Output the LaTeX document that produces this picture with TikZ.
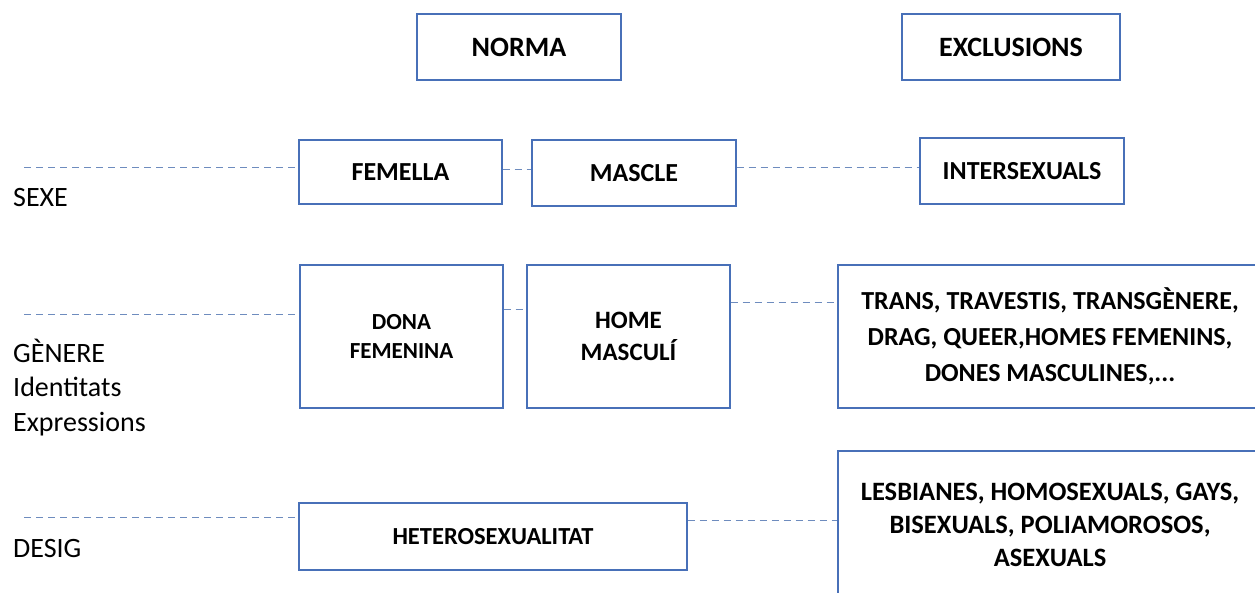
\documentclass[tikz,border=0pt]{standalone}
\usepackage{fontspec}
\setmainfont{Carlito}
\definecolor{boxblue}{RGB}{72,112,184}
\definecolor{dashblue}{RGB}{110,140,190}
\begin{document}
\begin{tikzpicture}[x=1pt,y=-1pt,
  box/.style={draw=boxblue,line width=1.1pt,inner sep=0pt,align=center,font=\fontsize{26}{32}\selectfont\bfseries},
  dashline/.style={draw=dashblue,line width=0.9pt,dash pattern=on 7pt off 5pt},
  lbl/.style={anchor=base west,inner sep=0pt,align=left,font=\fontsize{28}{34.5}\selectfont}]
\useasboundingbox (0,0) rectangle (1255,592);
\fill[white] (0,0) rectangle (1255,592);
% header
\node[box,minimum width=204pt,minimum height=66pt,font=\fontsize{28}{32}\selectfont\bfseries] (norma) at (519,47) {NORMA};
\node[box,minimum width=218pt,minimum height=66pt,font=\fontsize{28}{32}\selectfont\bfseries] (excl) at (1011,47) {EXCLUSIONS};
% sexe
\node[box,minimum width=203pt,minimum height=64pt] (femella) at (400.5,172) {FEMELLA};
\node[box,minimum width=204pt,minimum height=66pt] (mascle) at (634,173) {MASCLE};
\node[box,minimum width=204pt,minimum height=66pt] (inter) at (1022,171) {INTERSEXUALS};
% genere
\node[box,minimum width=203pt,minimum height=143pt,font=\fontsize{23}{28.5}\selectfont\bfseries] (dona) at (401.5,336.5) {DONA\\FEMENINA};
\node[box,minimum width=203pt,minimum height=143pt,font=\fontsize{25}{32}\selectfont\bfseries] (home) at (628.5,336.5) {HOME\\MASCULÍ};
\node[box,minimum width=424pt,minimum height=143pt,font=\fontsize{26}{36}\selectfont\bfseries] (trans) at (1050,336.5) {TRANS, TRAVESTIS, TRANSGÈNERE,\\DRAG, QUEER,HOMES FEMENINS,\\DONES MASCULINES,...};
% desig
\node[box,minimum width=388pt,minimum height=67pt,font=\fontsize{24.5}{32}\selectfont\bfseries] (hetero) at (493,536.5) {HETEROSEXUALITAT};
\node[box,minimum width=424pt,minimum height=148pt,font=\fontsize{26.5}{33}\selectfont\bfseries] (lesb) at (1050,525) {LESBIANES, HOMOSEXUALS, GAYS,\\BISEXUALS, POLIAMOROSOS,\\ASEXUALS};
% row labels
\node[lbl] (lsexe) at (13,206) {SEXE};
\node[lbl] (lgen) at (13,431) {GÈNERE\\Identitats\\Expressions};
\node[lbl] (ldesig) at (13,557) {DESIG};
% heights of the dashed guide lines
\coordinate (s1) at (24,167);
\coordinate (s2) at (0,169.3);
\coordinate (g1) at (24,314);
\coordinate (g2) at (0,309.5);
\coordinate (g3) at (0,302.7);
\coordinate (d1) at (24,517.3);
\coordinate (d2) at (0,520);
\draw[dashline] (s1) -- (s1 -| femella.west);
\draw[dashline] (femella.east |- s2) -- (mascle.west |- s2);
\draw[dashline] (mascle.east |- s1) -- (inter.west |- s1);
\draw[dashline] (g1) -- (g1 -| dona.west);
\draw[dashline] (dona.east |- g2) -- (home.west |- g2);
\draw[dashline] (home.east |- g3) -- (trans.west |- g3);
\draw[dashline] (d1) -- (d1 -| hetero.west);
\draw[dashline] (hetero.east |- d2) -- (lesb.west |- d2);
\end{tikzpicture}
\end{document}
